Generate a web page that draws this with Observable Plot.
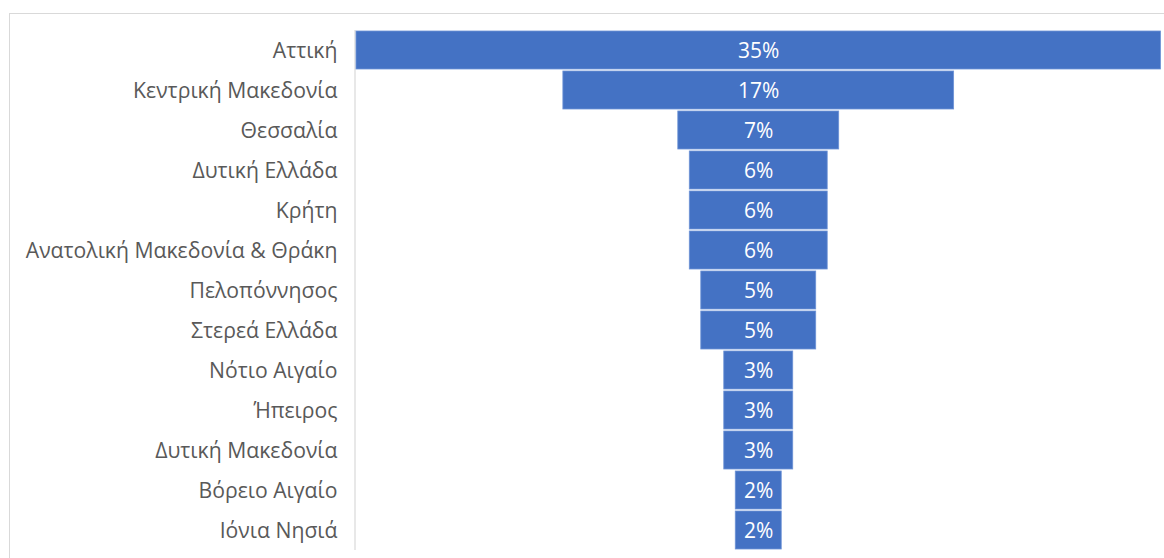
<!DOCTYPE html>
<html>
<head>
<meta charset="utf-8">
<script src="https://cdn.jsdelivr.net/npm/d3@7"></script>
<script src="https://cdn.jsdelivr.net/npm/@observablehq/plot@0.6"></script>
<style>
  html, body { margin: 0; padding: 0; background: #fff; overflow: hidden; }
  #frame { position: absolute; left: 9px; top: 13px; width: 1200px; height: 600px;
           border-top: 1px solid #d9d9d9; border-left: 1px solid #d9d9d9; }
  #chart { position: absolute; left: 0; top: 0; }
</style>
</head>
<body>
<div id="frame"></div>
<div id="chart"></div>
<script>
const regions = ["Αττική", "Κεντρική Μακεδονία", "Θεσσαλία", "Δυτική Ελλάδα", "Κρήτη",
  "Ανατολική Μακεδονία & Θράκη", "Πελοπόννησος", "Στερεά Ελλάδα", "Νότιο Αιγαίο",
  "Ήπειρος", "Δυτική Μακεδονία", "Βόρειο Αιγαίο", "Ιόνια Νησιά"];
const shares = [35, 17, 7, 6, 6, 6, 5, 5, 3, 3, 3, 2, 2];

const data = regions.map((r, i) => ({region: r, value: shares[i]}));
const maxV = d3.max(shares);

const chart = Plot.plot({
  width: 1164,
  height: 558,
  marginTop: 30,
  marginBottom: 8,
  marginLeft: 355,
  marginRight: 3,
  style: {fontFamily: "'Open Sans', sans-serif", background: "transparent"},
  x: {domain: [-maxV / 2, maxV / 2], range: [356, 1160.5], axis: null},
  y: {domain: regions, paddingInner: 0.06, paddingOuter: 0.03, label: null},
  marks: [
    Plot.ruleX([-maxV / 2], {stroke: "#d9d9d9", strokeWidth: 1.2, dx: -1.5}),
    Plot.barX(data, {
      y: "region",
      x1: d => -d.value / 2,
      x2: d => d.value / 2,
      fill: "#4472C4",
      stroke: "#6e93d6",
      strokeWidth: 0.8
    }),
    Plot.text(data, {
      y: "region",
      x: 0,
      text: d => d.value + "%",
      fill: "white",
      fontSize: 21,
      dy: 1
    }),
    Plot.axisY({tickSize: 0, tickPadding: 18, fontSize: 21.2, color: "#595959", label: null, dy: 1})
  ]
});
document.getElementById("chart").appendChild(chart);
</script>
</body>
</html>
